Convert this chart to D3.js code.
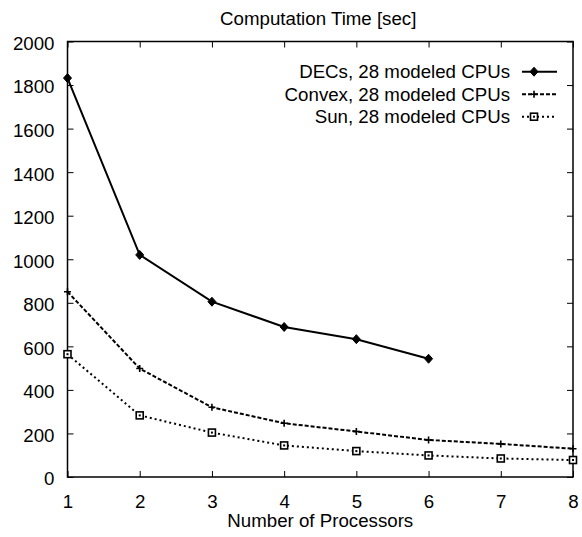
<!DOCTYPE html>
<html>
<head>
<meta charset="utf-8">
<script src="https://cdn.jsdelivr.net/npm/d3@7"></script>
<style>
  body { margin: 0; background: #fff; }
  text { font-family: "Liberation Sans", Arial, sans-serif; fill: #000; }
</style>
</head>
<body>
<div id="chart"></div>
<script>
// Data
const processors = [1, 2, 3, 4, 5, 6, 7, 8];
const decTimes = [1832, 1020, 805, 689, 633, 543];
const convexTimes = [851, 498, 320, 247, 209, 170, 152, 130];
const sunTimes = [564, 283, 204, 145, 119, 99, 85, 78];
const seriesNames = ["DECs, 28 modeled CPUs", "Convex, 28 modeled CPUs", "Sun, 28 modeled CPUs"];
const yTicks = [0, 200, 400, 600, 800, 1000, 1200, 1400, 1600, 1800, 2000];

const W = 582, H = 537;
const margin = { top: 41.5, right: 9, bottom: 60, left: 67.5 };
const width = W - margin.left - margin.right;
const height = H - margin.top - margin.bottom;
const fontSize = 18.7;

const svg = d3.select("#chart").append("svg")
  .attr("width", W).attr("height", H);
const g = svg.append("g")
  .attr("transform", "translate(" + margin.left + "," + margin.top + ")");

const x = d3.scaleLinear().domain([1, 8]).range([0, width]);
const y = d3.scaleLinear().domain([0, 2000]).range([height, 0]);

// axes with inward ticks (mirrored on top / right)
const styleAxis = function(sel) {
  sel.select(".domain").remove();
  sel.selectAll(".tick line").attr("stroke", "#000").attr("stroke-width", 1);
  sel.selectAll("text").style("font-size", fontSize + "px").attr("fill", "#000");
};
g.append("g").attr("transform", "translate(0," + height + ")")
  .call(d3.axisBottom(x).tickValues(processors).tickFormat(d3.format("d"))
    .tickSizeInner(-6).tickSizeOuter(0).tickPadding(18))
  .call(styleAxis);
g.append("g")
  .call(d3.axisTop(x).tickValues(processors).tickFormat("")
    .tickSizeInner(-6).tickSizeOuter(0))
  .call(styleAxis);
g.append("g")
  .call(d3.axisLeft(y).tickValues(yTicks).tickFormat(d3.format("d"))
    .tickSizeInner(-6).tickSizeOuter(0).tickPadding(13))
  .call(styleAxis)
  .selectAll("text").attr("dy", "0.42em");
g.append("g").attr("transform", "translate(" + width + ",0)")
  .call(d3.axisRight(y).tickValues(yTicks).tickFormat("")
    .tickSizeInner(-6).tickSizeOuter(0))
  .call(styleAxis);

// frame
g.append("rect")
  .attr("width", width).attr("height", height)
  .attr("fill", "none").attr("stroke", "#000").attr("stroke-width", 1.5);

// titles
svg.append("text")
  .attr("x", margin.left + width / 2 - 2).attr("y", 25)
  .attr("text-anchor", "middle").style("font-size", fontSize + "px")
  .text("Computation Time [sec]");
svg.append("text")
  .attr("x", margin.left + width / 2).attr("y", 526.5)
  .attr("text-anchor", "middle").style("font-size", fontSize + "px")
  .text("Number of Processors");

// series
const series = [
  { name: seriesNames[0], values: decTimes, dash: null, marker: "diamond" },
  { name: seriesNames[1], values: convexTimes, dash: "4,2", marker: "plus" },
  { name: seriesNames[2], values: sunTimes, dash: "2,3", marker: "square" }
];

const line = d3.line()
  .x(function(d) { return x(d.p); })
  .y(function(d) { return y(d.v); });

function drawMarker(sel, type) {
  if (type === "diamond") {
    sel.append("path").attr("d", "M0,-4.5L4,0L0,4.5L-4,0Z")
      .attr("fill", "#000").attr("stroke", "#000").attr("stroke-width", 1);
  } else if (type === "plus") {
    sel.append("path").attr("d", "M-3.5,0H3.5M0,-3.5V3.5")
      .attr("fill", "none").attr("stroke", "#000").attr("stroke-width", 1.6);
  } else {
    sel.append("rect").attr("x", -3.5).attr("y", -3.5)
      .attr("width", 7).attr("height", 7)
      .attr("fill", "#fff").attr("stroke", "#000").attr("stroke-width", 1.6);
    sel.append("rect").attr("x", -1).attr("y", -1)
      .attr("width", 2).attr("height", 2).attr("fill", "#000");
  }
}

series.forEach(function(s) {
  const pts = s.values.map(function(v, i) { return { p: processors[i], v: v }; });
  g.append("path")
    .datum(pts)
    .attr("d", line)
    .attr("fill", "none")
    .attr("stroke", "#000")
    .attr("stroke-width", 2)
    .attr("stroke-dasharray", s.dash);
  g.selectAll(null)
    .data(pts)
    .enter().append("g")
    .attr("transform", function(d) { return "translate(" + x(d.p) + "," + y(d.v) + ")"; })
    .each(function() { drawMarker(d3.select(this), s.marker); });
});

// legend
const legend = svg.append("g");
series.forEach(function(s, i) {
  const ly = 71.7 + i * 22.5;
  legend.append("text")
    .attr("x", 510).attr("y", ly).attr("dy", "0.35em")
    .attr("text-anchor", "end").style("font-size", fontSize + "px")
    .text(s.name);
  legend.append("line")
    .attr("x1", 522).attr("x2", 557).attr("y1", ly).attr("y2", ly)
    .attr("stroke", "#000").attr("stroke-width", 2)
    .attr("stroke-dasharray", s.dash);
  const m = legend.append("g").attr("transform", "translate(534," + ly + ")");
  drawMarker(m, s.marker);
});
</script>
</body>
</html>
